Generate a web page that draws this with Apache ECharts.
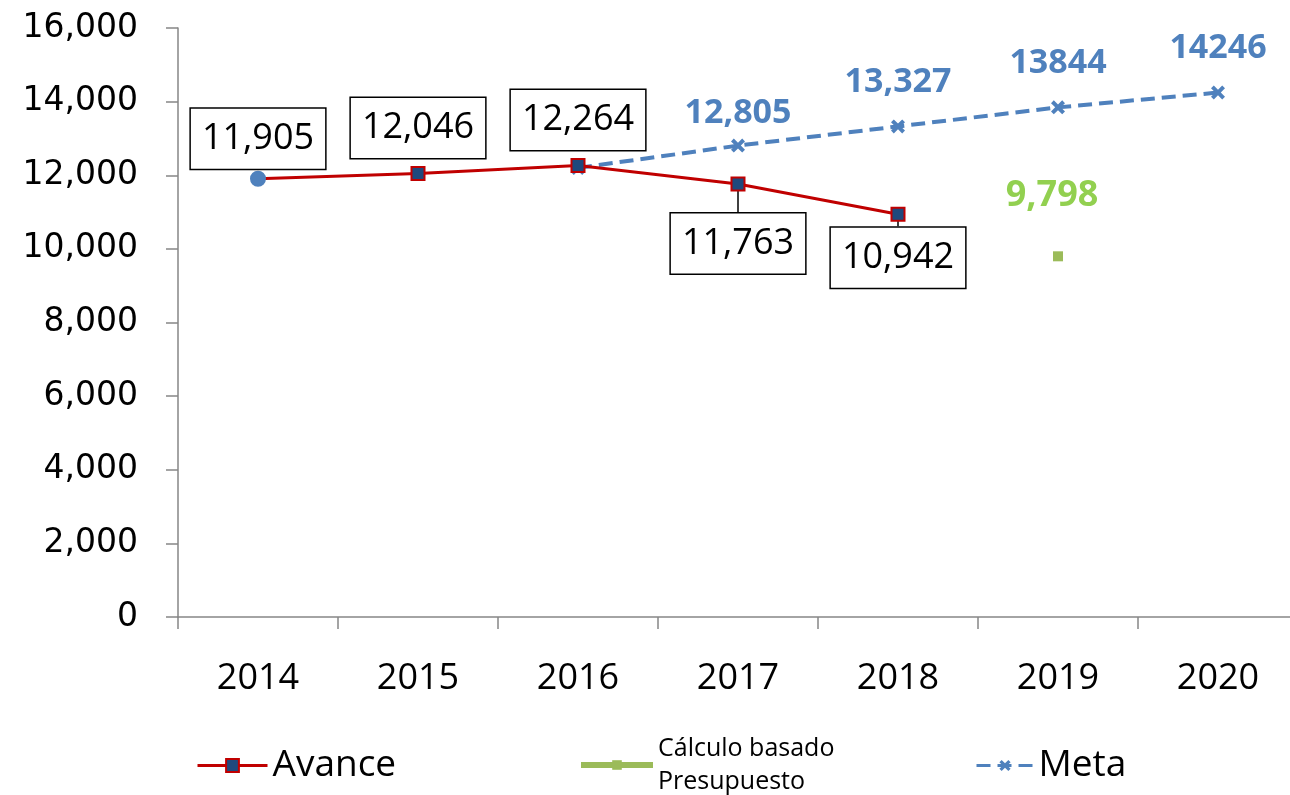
<!DOCTYPE html>
<html>
<head>
<meta charset="utf-8">
<script src="https://cdn.jsdelivr.net/npm/echarts@6/dist/echarts.min.js"></script>
<style>
  html, body { margin: 0; padding: 0; background: #fff; overflow: hidden; }
  /* plot runs a few pixels past the right edge, as in the original */
  #chart { width: 1298px; height: 795px; }
</style>
</head>
<body>
<div id="chart"></div>
<script>
// chart values
var years = ['2014', '2015', '2016', '2017', '2018', '2019', '2020'];
var avance = [11905, 12046, 12264, 11763, 10942, null, null];
var presupuesto = [null, null, null, null, null, 9798, null];
var meta = [null, null, 12200, 12805, 13327, 13844, 14246];
var metaLabels = ['', '', '', '12,805', '13,327', '13844', '14246'];
var yTicks = [0, 2000, 4000, 6000, 8000, 10000, 12000, 14000, 16000];

var serieNames = ['Avance', 'Cálculo basado\nPresupuesto', 'Meta'];

function fmt(v) {
    return Number(v).toLocaleString('en-US');
}

var chart = echarts.init(document.getElementById('chart'));

// label offsets per point, to sit the boxes like the original
var avanceDist = [2, 8, 8, 4, 4];
var avanceDy = [0, 0, 0, 18, 2];

var avanceData = avance.map(function (v, i) {
    var item = { value: v, label: { distance: avanceDist[i] } };
    if (i === 0) {
        item.symbol = 'circle';
        item.symbolSize = 14;
        item.itemStyle = { color: '#4F81BD', borderColor: '#4F81BD' };
    }
    if (i === 3 || i === 4) {
        item.label.position = 'bottom';
        item.labelLine = { show: true };
    }
    return item;
});

var metaData = meta.map(function (v, i) {
    var item = { value: v };
    if (i === 3) item.label = { distance: 8 };
    return item;
});

var xShape = 'path://M0,2L2,0L5,3L8,0L10,2L7,5L10,8L8,10L5,7L2,10L0,8L3,5Z';

var option = {
    animation: false,
    backgroundColor: '#fff',
    grid: { left: 178, right: 0, top: 28, bottom: 178 },
    xAxis: {
        type: 'category',
        data: years,
        boundaryGap: true,
        axisLine: { lineStyle: { color: '#868686', width: 1.5 } },
        axisTick: { show: true, length: 12, lineStyle: { color: '#868686', width: 1.5 } },
        axisLabel: { color: '#000', fontSize: 36, fontFamily: 'Open Sans', margin: 44 }
    },
    yAxis: {
        type: 'value',
        min: yTicks[0],
        max: yTicks[yTicks.length - 1],
        interval: 2000,
        splitLine: { show: false },
        axisLine: { show: true, lineStyle: { color: '#868686', width: 1.5 } },
        axisTick: { show: true, length: 12, lineStyle: { color: '#868686', width: 1.5 } },
        axisLabel: {
            color: '#000', fontSize: 33, fontFamily: 'DejaVu Sans', margin: 40,
            formatter: function (v) { return fmt(v); }
        }
    },
    legend: [
        {
            data: [{ name: serieNames[0], lineStyle: { width: 3 } }],
            left: 196, top: 747, padding: 0, itemWidth: 70, itemHeight: 16,
            textStyle: { fontSize: 37, fontFamily: 'Open Sans', color: '#000' }
        },
        {
            data: [{ name: serieNames[1], lineStyle: { width: 6 } }],
            left: 578, top: 732, padding: 0, itemWidth: 72, itemHeight: 12,
            textStyle: { fontSize: 25, lineHeight: 33, fontFamily: 'Open Sans', color: '#000' }
        },
        {
            data: [{ name: serieNames[2], lineStyle: { width: 3 } }],
            left: 975, top: 747, padding: 0, itemWidth: 57, itemHeight: 14,
            textStyle: { fontSize: 37, fontFamily: 'Open Sans', color: '#000' }
        }
    ],
    series: [
        {
            name: serieNames[2],
            type: 'line',
            data: metaData,
            symbol: xShape,
            symbolSize: 14,
            itemStyle: { color: '#4F81BD' },
            lineStyle: { color: '#4F81BD', width: 4, type: [14, 7] },
            label: {
                show: true,
                position: 'top',
                distance: 20,
                color: '#4F81BD',
                fontSize: 34,
                fontWeight: 'bold',
                fontFamily: 'Open Sans',
                formatter: function (p) { return metaLabels[p.dataIndex]; }
            },
            z: 2
        },
        {
            name: serieNames[0],
            type: 'line',
            data: avanceData,
            symbol: 'rect',
            symbolSize: 13,
            itemStyle: { color: '#1F497D', borderColor: '#C00000', borderWidth: 2 },
            lineStyle: { color: '#C00000', width: 3 },
            label: {
                show: true,
                position: 'top',
                color: '#000',
                fontSize: 36,
                lineHeight: 40,
                fontFamily: 'Open Sans',
                backgroundColor: '#fff',
                borderColor: '#000',
                borderWidth: 1.5,
                padding: [10, 11],
                formatter: function (p) { return fmt(p.value); }
            },
            labelLine: { lineStyle: { color: '#000', width: 1.5 } },
            labelLayout: function (p) {
                return { dy: avanceDy[p.dataIndex] || 0 };
            },
            z: 3
        },
        {
            name: serieNames[1],
            type: 'line',
            data: presupuesto,
            symbol: 'rect',
            symbolSize: 10,
            itemStyle: { color: '#9BBB59' },
            lineStyle: { color: '#9BBB59', width: 6 },
            label: {
                show: true,
                position: 'top',
                distance: 38,
                offset: [-6, 0],
                color: '#92D050',
                fontSize: 36,
                fontWeight: 'bold',
                fontFamily: 'Open Sans',
                formatter: function (p) { return fmt(p.value); }
            },
            z: 2
        }
    ]
};

chart.setOption(option);
</script>
</body>
</html>
